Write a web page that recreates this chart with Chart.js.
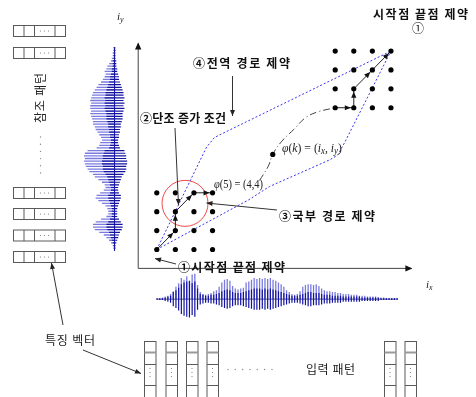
<!DOCTYPE html>
<html>
<head>
<meta charset="utf-8">
<script src="https://cdn.jsdelivr.net/npm/chart.js@4/dist/chart.umd.min.js"></script>
<style>
  html, body { margin: 0; padding: 0; background: #fff; overflow: hidden; }
  #wrap { width: 476px; height: 397px; }
</style>
</head>
<body>
<div id="wrap"><canvas id="c" width="476" height="397"></canvas></div>
<script>
// Lattice corners of the (i_x, i_y) plane that are drawn
const lowCols = [1, 2, 3, 4];
const lowRows = [1, 2, 3, 4];
const highCols = [10.6, 11.6, 12.6, 13.6];
const highRows = [8.5, 9.5, 10.5, 11.5];

// Warping path: first steps, last steps and the sketched middle part
const pathStart = [[1, 1], [2, 2], [2, 3], [3, 4], [4, 4]];
const pathEnd = [[10.6, 8.5], [11.6, 8.5], [11.6, 9.5], [12.6, 10.5], [13.6, 11.5]];
const pathMid = [[6.53, 4.65], [7.0, 5.41], [7.24, 6.03], [7.73, 6.73], [8.37, 7.35], [9.0, 7.97], [9.66, 8.28], [10.6, 8.5]];
const phiK = [7.24, 6.03];

// Global path constraint window
const windowUpper = [[1, 1], [3.68, 6.42], [4.11, 6.93], [4.98, 7.35], [13.6, 11.5]];
const windowLower = [[1, 1], [5.95, 3.63], [7.06, 4.33], [10.3, 5.74], [10.74, 6.0], [11.13, 6.7], [13.6, 11.5]];

// Local path constraint neighbourhood
const localCentre = [2.52, 3.44];

// Input pattern waveform: peak above / below zero for each stroke
const inputUp = [1,1,2,3,4,6,9,14,18,24, 22,26,20,28,29,16,8,6,5,6, 7,9,10,14,19,22,23,21,15,12,
  11,12,13,19,20,22,24,23,24,23, 24,23,24,22,21,19,17,14,10,8, 6,5,6,9,14,16,17,17,16,17,
  15,12,10,9,9,8,8,7,7,6, 6,6,5,5,5,4,4,4,3,3, 3,3,2,2,2,1,1,1,1,1];
const inputDown = [1,1,1,2,3,4,8,10,13,17, 19,20,21,18,20,12,6,5,4,4, 5,5,6,7,9,10,11,10,8,7,
  7,7,8,9,10,11,12,12,12,11, 12,11,12,11,10,9,8,7,6,5, 4,4,4,5,6,7,8,8,7,7,
  7,6,5,5,5,4,4,4,4,3, 3,3,3,3,3,3,2,2,2,2, 2,2,2,1,1,1,1,1,1,1];

// Reference pattern waveform: peak to the left / right of zero for each stroke
const refLeft = [1,1,2,2,3,4,6,8,9,11, 10,11,13,15,18,20,22,24,25,26, 27,26,27,27,26,27,26,25,24,24,
  22,21,19,17,15,14,16,17,20,30, 33,34,33,34,33,32,30,28,24,22, 18,14,11,10,12,16,20,21,18,14,
  10,8,7,7,9,15,21,24,24,22, 17,12,9,6,4,2,1];
const refRight = [1,1,1,1,1,2,2,2,3,3, 4,5,5,6,7,8,9,10,10,11, 10,11,10,11,10,9,9,9,8,7,
  7,6,6,5,5,4,4,5,6,11, 12,13,13,14,14,13,13,12,10,8, 7,6,5,4,4,5,7,7,6,5,
  4,3,3,3,3,5,7,9,9,8, 6,5,4,3,2,1,1];

const W = 476, H = 397;
const KR = '"Noto Sans CJK KR", "Noto Sans", sans-serif';
const SERIF = '"Liberation Serif", "DejaVu Serif", serif';

// Linear scales placed so a value of 0 lands on a given pixel
function across(origin, ppu) { return { type: 'linear', display: false, min: -origin / ppu, max: (W - origin) / ppu }; }
function upward(origin, ppu) { return { type: 'linear', display: false, min: -(H - origin) / ppu, max: origin / ppu }; }
function downward(origin, ppu) { return { type: 'linear', display: false, reverse: true, min: -origin / ppu, max: (H - origin) / ppu }; }

const pts = arr => arr.map(p => ({ x: p[0], y: p[1] }));
const GAP = { x: null, y: null };

const lattice = [];
for (const i of lowCols) for (const j of lowRows) lattice.push({ x: i, y: j });
for (const i of highCols) for (const j of highRows) lattice.push({ x: i, y: j });

const inLight = [], inDark = [];
inputUp.forEach((v, k) => { inLight.push({ x: k, y: 0 }, { x: k, y: v }, GAP); });
inputDown.forEach((v, k) => { inDark.push({ x: k, y: -v }, { x: k, y: v }, GAP); });
const refLight = [], refDark = [];
refLeft.forEach((v, k) => { refLight.push({ x: -v, y: k }, { x: 0, y: k }, GAP); });
refRight.forEach((v, k) => { refDark.push({ x: -v, y: k }, { x: v, y: k }, GAP); });

const LIGHT = 'rgba(70,70,210,0.72)';
const DARK = '#1414a0';
const BLUE_DOT = '#3535f0';
const INK = '#333';

const line = (data, extra) => Object.assign({
  data, showLine: true, pointRadius: 0, borderWidth: 1, borderColor: INK,
  tension: 0, spanGaps: false, xAxisID: 'x', yAxisID: 'y'
}, extra || {});

const datasets = [
  { data: lattice, pointRadius: 2.6, backgroundColor: '#000', borderWidth: 0, xAxisID: 'x', yAxisID: 'y' },
  { data: pts([phiK]), pointRadius: 2.6, backgroundColor: '#000', borderWidth: 0, xAxisID: 'x', yAxisID: 'y' },
  line(pts(pathStart), { borderColor: '#222' }),
  line(pts(pathEnd), { borderColor: '#222' }),
  line(pts(pathMid), { borderColor: '#444', borderDash: [7, 3, 1, 3], tension: 0.4 }),
  line(pts(windowUpper), { borderColor: BLUE_DOT, borderDash: [2, 2] }),
  line(pts(windowLower), { borderColor: BLUE_DOT, borderDash: [2, 2] }),
  { data: pts([localCentre]), pointRadius: 23, backgroundColor: 'rgba(0,0,0,0)', borderColor: '#ee4a4a', borderWidth: 1, xAxisID: 'x', yAxisID: 'y' },
  line([{ x: 0, y: 0 }, { x: 14.7, y: 0 }], { borderColor: '#444' }),
  line([{ x: 0, y: 0 }, { x: 0, y: 11.9 }], { borderColor: '#444' }),
  line(inDark, { borderColor: DARK, borderWidth: 1.2, xAxisID: 'xIn', yAxisID: 'yIn' }),
  line(inLight, { borderColor: LIGHT, borderWidth: 1.3, xAxisID: 'xIn', yAxisID: 'yIn' }),
  line([{ x: 0, y: 0 }, { x: inputUp.length - 1, y: 0 }], { borderColor: '#55559a', xAxisID: 'xIn', yAxisID: 'yIn' }),
  line(refDark, { borderColor: DARK, borderWidth: 1.2, xAxisID: 'xRef', yAxisID: 'yRef' }),
  line(refLight, { borderColor: LIGHT, borderWidth: 1.3, xAxisID: 'xRef', yAxisID: 'yRef' }),
  line([{ x: 0, y: 0 }, { x: 0, y: refLeft.length }], { borderColor: DARK, xAxisID: 'xRef', yAxisID: 'yRef' })
];

function head(ctx, x1, y1, x2, y2, len, half) {
  const a = Math.atan2(y2 - y1, x2 - x1);
  ctx.beginPath();
  ctx.moveTo(x2, y2);
  ctx.lineTo(x2 - len * Math.cos(a) + half * Math.sin(a), y2 - len * Math.sin(a) - half * Math.cos(a));
  ctx.lineTo(x2 - len * Math.cos(a) - half * Math.sin(a), y2 - len * Math.sin(a) + half * Math.cos(a));
  ctx.closePath();
  ctx.fill();
}
function arrow(ctx, x1, y1, x2, y2) {
  ctx.beginPath(); ctx.moveTo(x1, y1); ctx.lineTo(x2, y2); ctx.stroke();
  head(ctx, x1, y1, x2, y2, 6, 2.5);
}
// Text spread so that it covers a given width
function spaced(ctx, str, x, y, width) {
  const chars = [...str];
  const ws = chars.map(c => ctx.measureText(c).width);
  const natural = ws.reduce((a, b) => a + b, 0);
  const gap = chars.length > 1 ? (width - natural) / (chars.length - 1) : 0;
  let cx = x;
  chars.forEach((c, k) => { ctx.fillText(c, cx, y); cx += ws[k] + gap; });
}
// Mixed-font formula text scaled to a given width
function rich(ctx, parts, x, y, width) {
  let total = 0;
  parts.forEach(p => { ctx.font = p.f; p.w = ctx.measureText(p.t).width; total += p.w; });
  const f = width ? width / total : 1;
  ctx.save(); ctx.translate(x, y); ctx.scale(f, 1);
  let cx = 0;
  parts.forEach(p => { ctx.font = p.f; ctx.fillText(p.t, cx, p.dy || 0); cx += p.w; });
  ctx.restore();
}
function dots(ctx, list, r) {
  list.forEach(([x, y]) => { ctx.beginPath(); ctx.arc(x, y, r, 0, Math.PI * 2); ctx.fill(); });
}

const diagram = {
  id: 'diagram',
  afterDatasetsDraw(chart) {
    const ctx = chart.ctx;
    const sx = chart.scales.x, sy = chart.scales.y;
    const px = p => [sx.getPixelForValue(p[0]), sy.getPixelForValue(p[1])];
    ctx.save();

    // axis arrow tips
    ctx.fillStyle = '#111';
    const o = px([0, 0]), xe = px([14.7, 0]), ye = px([0, 11.9]);
    head(ctx, o[0], o[1], xe[0] + 1, xe[1], 7, 3.2);
    head(ctx, o[0], o[1], ye[0], ye[1] - 1, 7, 3.2);

    // arrowheads on every path step
    ctx.fillStyle = '#111';
    [pathStart, pathEnd].forEach(path => {
      for (let k = 1; k < path.length; k++) {
        const a = px(path[k - 1]), b = px(path[k]);
        const len = Math.hypot(b[0] - a[0], b[1] - a[1]);
        const t = (len - 3) / len;
        head(ctx, a[0], a[1], a[0] + (b[0] - a[0]) * t, a[1] + (b[1] - a[1]) * t, 6, 2.6);
      }
    });

    // annotation arrows
    ctx.strokeStyle = '#333'; ctx.fillStyle = '#222'; ctx.lineWidth = 1;
    arrow(ctx, 232.5, 76, 232.5, 116);
    arrow(ctx, 175, 128, 178.5, 205);
    arrow(ctx, 277, 210, 206.5, 203);
    arrow(ctx, 176, 264, 155, 258.5);
    arrow(ctx, 83, 350, 141, 373.5);
    arrow(ctx, 63, 325, 51.5, 263);

    // feature vectors of the reference pattern
    ctx.strokeStyle = '#5a5a5a'; ctx.lineWidth = 1;
    const cells = [13.5, 24, 34.5, 55, 65.5];
    [25, 47, 187, 208, 229.5, 251].forEach(top => {
      ctx.strokeRect(13.5, top + 0.5, 52, 11);
      cells.slice(1, -1).forEach(cx => { ctx.beginPath(); ctx.moveTo(cx, top + 0.5); ctx.lineTo(cx, top + 11.5); ctx.stroke(); });
      ctx.fillStyle = '#777';
      dots(ctx, [[40.5, top + 6], [44.5, top + 6], [48.5, top + 6]], 0.6);
    });

    // feature vectors of the input pattern
    [144, 165.5, 186, 206.5, 384, 404.5].forEach(left => {
      ctx.strokeStyle = '#5a5a5a'; ctx.lineWidth = 1;
      ctx.strokeRect(left + 0.5, 341.5, 11.5, 60);
      [364.5, 385.5].forEach(yy => { ctx.beginPath(); ctx.moveTo(left + 0.5, yy); ctx.lineTo(left + 12, yy); ctx.stroke(); });
      ctx.strokeStyle = '#999'; ctx.lineWidth = 2;
      ctx.beginPath(); ctx.moveTo(left + 0.5, 352.5); ctx.lineTo(left + 12, 352.5); ctx.stroke();
      ctx.fillStyle = '#777';
      dots(ctx, [[left + 6, 368.5], [left + 6, 372.5], [left + 6, 376.5]], 0.6);
    });

    // ellipsis marks
    ctx.fillStyle = '#888';
    dots(ctx, [228, 235.3, 242.6, 250, 257.3, 264.6, 272].map(x => [x, 369.5]), 0.7);
    dots(ctx, [137, 144.2, 151.4, 158.6, 165.8, 173].map(y => [40.5, y]), 0.7);

    // labels
    ctx.fillStyle = '#111';
    ctx.textBaseline = 'middle';
    ctx.font = 'bold 12px ' + KR;
    spaced(ctx, '시작점 끝점 제약', 373, 14, 95);
    spaced(ctx, '④전역 경로 제약', 193, 63, 97);
    spaced(ctx, '②단조 증가 조건', 140, 118, 86);
    spaced(ctx, '③국부 경로 제약', 279, 216, 96);
    spaced(ctx, '①시작점 끝점 제약', 178, 267, 107);
    ctx.font = '12px ' + KR;
    ctx.textAlign = 'center';
    ctx.fillText('①', 418, 28);
    ctx.textAlign = 'left';
    ctx.fillStyle = '#222';
    spaced(ctx, '특징 벡터', 45, 340, 50);
    spaced(ctx, '입력 패턴', 306, 369.5, 49);
    ctx.save();
    ctx.translate(40, 98); ctx.rotate(-Math.PI / 2);
    spaced(ctx, '참조 패턴', -25, 0, 50);
    ctx.restore();

    // formula labels
    ctx.fillStyle = '#222';
    const it = 'italic 13px ' + SERIF, rm = '13px ' + SERIF, sub = 'italic 10px ' + SERIF;
    rich(ctx, [{ t: 'φ', f: it }, { t: '(5) = (4,4)', f: rm }], 214, 185, 49);
    rich(ctx, [{ t: 'φ', f: it }, { t: '(', f: rm }, { t: 'k', f: it }, { t: ') = (', f: rm },
      { t: 'i', f: it }, { t: 'x', f: sub, dy: 3 }, { t: ', ', f: rm },
      { t: 'i', f: it }, { t: 'y', f: sub, dy: 3 }, { t: ')', f: rm }], 282, 148.5, 60);
    rich(ctx, [{ t: 'i', f: 'italic 11px ' + SERIF }, { t: 'y', f: 'italic 8px ' + SERIF, dy: 3 }], 117, 17);
    rich(ctx, [{ t: 'i', f: 'italic 11px ' + SERIF }, { t: 'x', f: 'italic 8px ' + SERIF, dy: 3 }], 426, 285);

    ctx.restore();
  }
};

new Chart(document.getElementById('c'), {
  type: 'scatter',
  data: { datasets },
  options: {
    responsive: false,
    devicePixelRatio: 1,
    animation: false,
    events: [],
    layout: { padding: 0 },
    plugins: { legend: { display: false }, tooltip: { enabled: false }, title: { display: false } },
    scales: {
      x: across(127, 20.67),
      y: upward(278, 21.5),
      xIn: across(148, 3),
      yIn: upward(313, 1),
      xRef: across(100.7, 1),
      yRef: downward(27, 3)
    }
  },
  plugins: [diagram]
});
</script>
</body>
</html>
